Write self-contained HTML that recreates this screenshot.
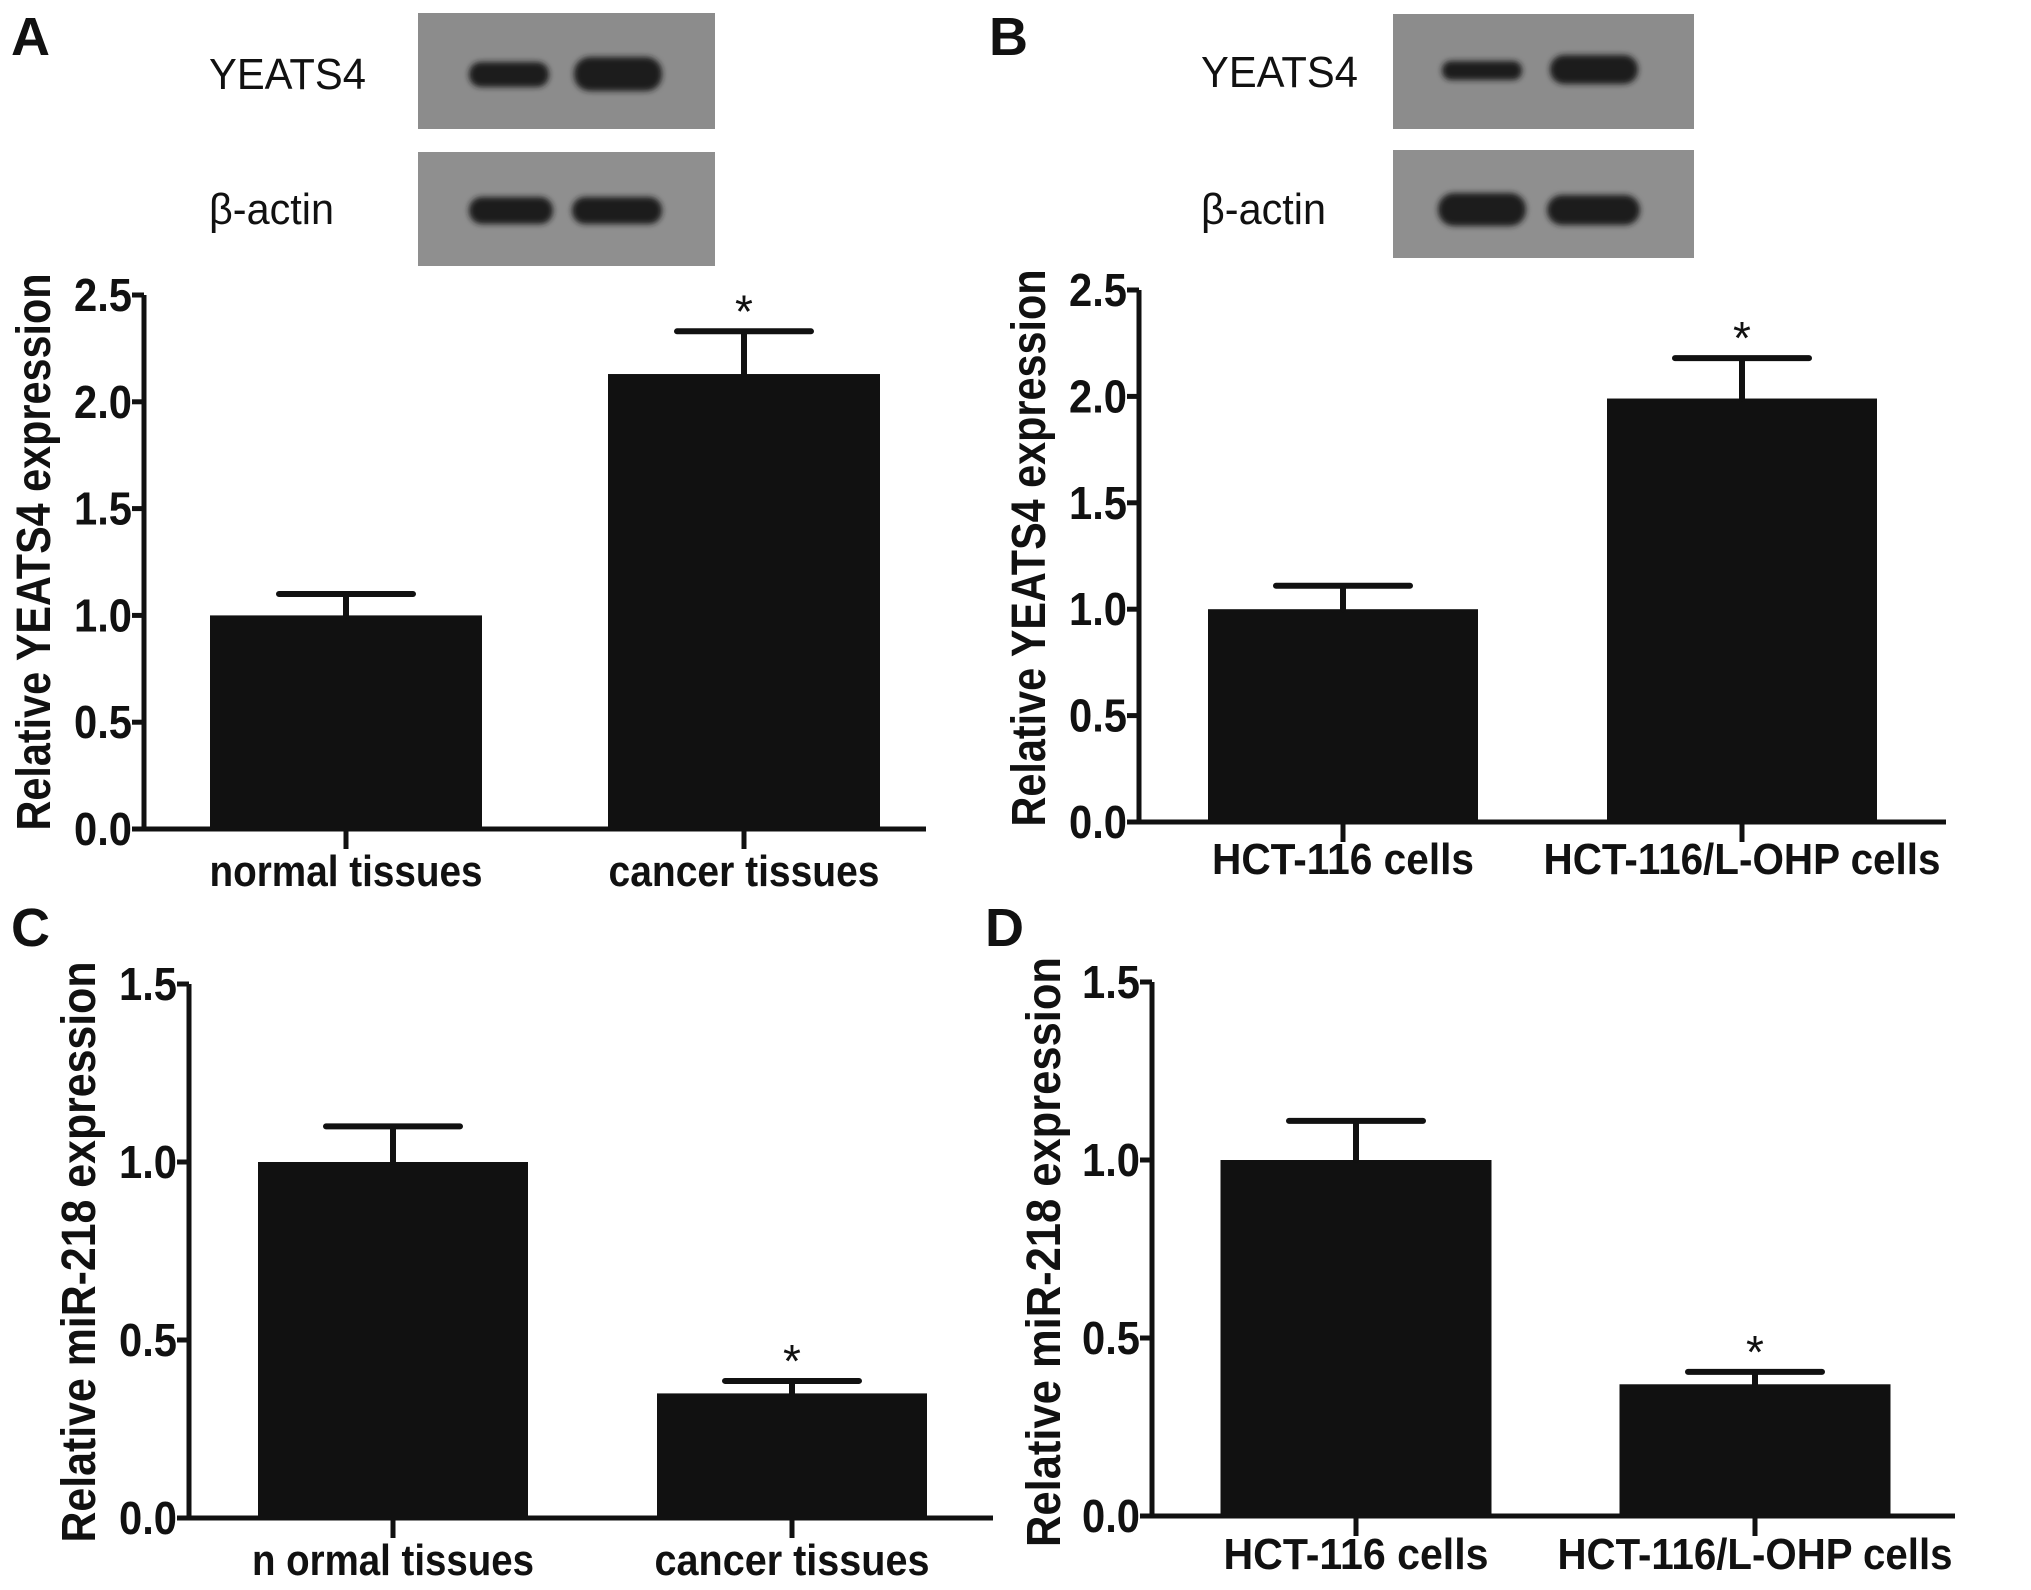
<!DOCTYPE html>
<html><head><meta charset="utf-8"><style>
html,body{margin:0;padding:0;background:#fff}
svg{display:block}
text{font-family:"Liberation Sans",Arial,sans-serif}
</style></head><body>
<svg id="fig" width="2031" height="1590" viewBox="0 0 2031 1590" xmlns="http://www.w3.org/2000/svg">
<defs>
<filter id="blur" x="-20%" y="-50%" width="140%" height="200%"><feGaussianBlur stdDeviation="3"/></filter>
</defs>
<g font-weight="bold" font-size="54" fill="#111">
<text x="11" y="55">A</text>
<text x="989" y="55">B</text>
<text x="11" y="946">C</text>
<text x="985" y="946">D</text>
</g>
<g>
<rect x="418" y="13" width="297" height="116" fill="#8c8c8c"/>
<rect x="418" y="152" width="297" height="114" fill="#8f8f8f"/>
<g fill="#1e1e1e" filter="url(#blur)">
<rect x="469" y="62" width="80" height="25" rx="12"/>
<rect x="574" y="57" width="88" height="34" rx="16"/>
<rect x="469" y="197" width="84" height="27" rx="13"/>
<rect x="572" y="197" width="90" height="27" rx="13"/>
</g>
<text x="209" y="89" font-size="44" fill="#111" textLength="157" lengthAdjust="spacingAndGlyphs">YEATS4</text>
<text x="209" y="224" font-size="44" fill="#111" textLength="125" lengthAdjust="spacingAndGlyphs">β-actin</text>
</g>
<g>
<rect x="1393" y="14" width="301" height="115" fill="#8c8c8c"/>
<rect x="1393" y="150" width="301" height="108" fill="#8f8f8f"/>
<g fill="#1e1e1e" filter="url(#blur)">
<rect x="1442" y="61" width="80" height="19" rx="9"/>
<rect x="1550" y="55" width="88" height="29" rx="14"/>
<rect x="1438" y="193" width="88" height="33" rx="16"/>
<rect x="1547" y="195" width="93" height="30" rx="15"/>
</g>
<text x="1201" y="87" font-size="44" fill="#111" textLength="157" lengthAdjust="spacingAndGlyphs">YEATS4</text>
<text x="1201" y="224" font-size="44" fill="#111" textLength="125" lengthAdjust="spacingAndGlyphs">β-actin</text>
</g>
<g id="charts"></g>
</svg>
<script>
// Panel A
const catsA = ["normal tissues", "cancer tissues"];
const valsA = [1.0, 2.13];
const errsA = [1.10, 2.33];
const ticksA = ["0.0", "0.5", "1.0", "1.5", "2.0", "2.5"];
// Panel B
const catsB = ["HCT-116 cells", "HCT-116/L-OHP cells"];
const valsB = [1.0, 1.99];
const errsB = [1.11, 2.18];
const ticksB = ["0.0", "0.5", "1.0", "1.5", "2.0", "2.5"];
// Panel C
const catsC = ["n ormal tissues", "cancer tissues"];
const valsC = [1.0, 0.35];
const errsC = [1.10, 0.385];
const ticksC = ["0.0", "0.5", "1.0", "1.5"];
// Panel D
const catsD = ["HCT-116 cells", "HCT-116/L-OHP cells"];
const valsD = [1.0, 0.37];
const errsD = [1.11, 0.405];
const ticksD = ["0.0", "0.5", "1.0", "1.5"];
const stars = [false, true];

const NS = "http://www.w3.org/2000/svg";
const root = document.getElementById("charts");
function mk(tag, attrs, parent) {
  const e = document.createElementNS(NS, tag);
  for (const k in attrs) e.setAttribute(k, attrs[k]);
  parent.appendChild(e);
  return e;
}
function chart(id, cfg, cats, vals, errs, ticks) {
  const g = mk("g", {}, root);
  
  
  const ymax = parseFloat(ticks[ticks.length - 1]);
  const y = v => cfg.y0 - (v / ymax) * (cfg.y0 - cfg.yTop);
  const x = i => cfg.cx[i];
  vals.forEach((v, i) => {
    const b = mk("rect", {x: x(i) - cfg.bw / 2, y: y(v), width: cfg.bw, height: cfg.y0 - y(v), fill: "#111"}, g);
    
    
    const e = mk("path", {d: `M${x(i)} ${y(v)}V${y(errs[i])}M${x(i) - 67} ${y(errs[i])}H${x(i) + 67}`, stroke: "#111", "stroke-width": 6, "stroke-linecap": "round", fill: "none"}, g);
    
    
    if (stars[i]) {
      const s = mk("text", {x: x(i), y: y(errs[i]) - 4, "text-anchor": "middle", "font-size": 46, fill: "#111"}, g);
      s.textContent = "*";
      
      
    }
    const t = mk("path", {d: `M${x(i)} ${cfg.y0}V${cfg.y0 + 20}`, stroke: "#111", "stroke-width": 5}, g);
    
    
    const l = mk("text", {x: x(i), y: cfg.labY + 16, "text-anchor": "middle", "font-size": 44, "font-weight": "bold", fill: "#111", textLength: cfg.labW[i], lengthAdjust: "spacingAndGlyphs"}, g);
    l.textContent = cats[i];
    
    
  });
  const ax = mk("path", {d: `M${cfg.ax} ${cfg.yTop}V${cfg.y0}H${cfg.xEnd}`, stroke: "#111", "stroke-width": 5, fill: "none"}, g);
  
  
  ticks.forEach(tk => {
    const v = parseFloat(tk);
    const tm = mk("path", {d: `M${cfg.ax - 12} ${y(v)}H${cfg.ax}`, stroke: "#111", "stroke-width": 5}, g);
    
    
    const tl = mk("text", {x: cfg.ax - 12, y: y(v) + 16, "text-anchor": "end", "font-size": 46, "font-weight": "bold", fill: "#111", textLength: 58, lengthAdjust: "spacingAndGlyphs"}, g);
    tl.textContent = tk;
    
    
  });
  const tt = mk("text", {x: 0, y: 0, "text-anchor": "middle", "font-size": 48, "font-weight": "bold", fill: "#111", textLength: cfg.tLen, lengthAdjust: "spacingAndGlyphs",
    transform: `translate(${cfg.tx + 17},${cfg.tcy}) rotate(-90)`}, g);
  tt.textContent = cfg.title;
  
  
}
chart("a", {ax: 144, yTop: 295, y0: 829, xEnd: 926, cx: [346, 744], bw: 272, labY: 870, labW: [273, 271], tx: 33, tcy: 552, tLen: 557, title: "Relative YEATS4 expression"}, catsA, valsA, errsA, ticksA);
chart("b", {ax: 1139, yTop: 290, y0: 822, xEnd: 1946, cx: [1343, 1742], bw: 270, labY: 858, labW: [262, 397], tx: 1028, tcy: 548, tLen: 557, title: "Relative YEATS4 expression"}, catsB, valsB, errsB, ticksB);
chart("c", {ax: 189, yTop: 984, y0: 1518, xEnd: 993, cx: [393, 792], bw: 270, labY: 1559, labW: [282, 275], tx: 78, tcy: 1252, tLen: 581, title: "Relative miR-218 expression"}, catsC, valsC, errsC, ticksC);
chart("d", {ax: 1152, yTop: 982, y0: 1516, xEnd: 1955, cx: [1356, 1755], bw: 271, labY: 1553, labW: [265, 395], tx: 1043, tcy: 1252, tLen: 590, title: "Relative miR-218 expression"}, catsD, valsD, errsD, ticksD);
</script>
</body></html>
